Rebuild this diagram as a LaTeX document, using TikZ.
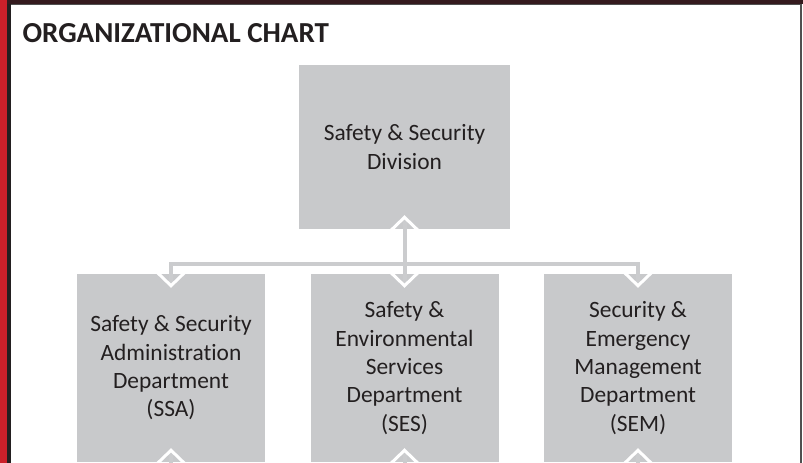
\documentclass[tikz,border=0pt]{standalone}
\usepackage{fontspec}
\setmainfont{Carlito}[Ligatures=NoCommon]
\usepackage{tikz}
\usepackage{xcolor}
\usetikzlibrary{positioning, arrows.meta, calc}
\definecolor{ocred}{RGB}{203, 32, 42}
\definecolor{ocdark}{RGB}{35, 31, 32}
\definecolor{octop}{RGB}{52, 26, 30}
\definecolor{ocedge}{RGB}{80, 80, 80}
\definecolor{ocbox}{RGB}{200, 201, 203}
\definecolor{oclink}{RGB}{203, 204, 206}
\tikzset{
    chev/.tip={Straight Barb[color=white, length=13pt, width=27pt, line width=3pt]},
    orgbox/.style={rectangle, fill=ocbox, inner sep=0pt, align=center, text=ocdark,
        font=\fontsize{23.4}{28.3}\selectfont},
    divbox/.style={orgbox, minimum width=211pt, minimum height=164pt},
    deptbox/.style={orgbox, minimum width=188pt, minimum height=188pt},
    link/.style={draw=oclink, line width=4pt}
}

\begin{document}
\begin{tikzpicture}[x=1pt, y=-1pt]
                % page and frame
                \useasboundingbox (0,0) rectangle (803,463);
                \clip (0,0) rectangle (803,463);
                \fill[white] (0,0) rectangle (803,463);
                \fill[ocred] (0,0) rectangle (7,463);
                \fill[ocdark] (7,4) rectangle (11,463);
                \fill[octop] (7,0) rectangle (803,4);
                \fill[ocedge] (11,4) rectangle (801,5);
                \fill[ocedge] (800,4) rectangle (802,463);
                \node[anchor=base west, text=ocdark, font=\fontsize{29}{35}\selectfont\bfseries]
                    (title) at (19,42) {ORGANIZATIONAL CHART};
                % boxes
                \node[divbox] (div) at (404.5,147) {Safety \& Security\\Division};
                \node[deptbox] (ssa) at (171,368) {Safety \& Security\\Administration\\Department\\(SSA)};
                \node[deptbox] (ses) at (404.5,368) {Safety \&\\Environmental\\Services\\Department\\(SES)};
                \node[deptbox] (sem) at (638,368) {Security \&\\Emergency\\Management\\Department\\(SEM)};
                % connectors
                \coordinate (bus) at (404.5,264);
                \coordinate (ssa-out) at ($(ssa.south)+(0,-20pt)$);
                \coordinate (ses-out) at ($(ses.south)+(0,-20pt)$);
                \coordinate (sem-out) at ($(sem.south)+(0,-20pt)$);
                \draw[link, -{chev}] (bus) -| ([yshift=-14pt]ssa.north);
                \draw[link, -{chev}] (bus) -| ([yshift=-14pt]sem.north);
                \draw[link, {chev}-{chev}] ([yshift=14pt]div.south) -- ([yshift=-14pt]ses.north);
                \draw[link, -{chev}] (ssa-out) -- ([yshift=14pt]ssa.south);
                \draw[link, -{chev}] (ses-out) -- ([yshift=14pt]ses.south);
                \draw[link, -{chev}] (sem-out) -- ([yshift=14pt]sem.south);
            \end{tikzpicture}
\end{document}
